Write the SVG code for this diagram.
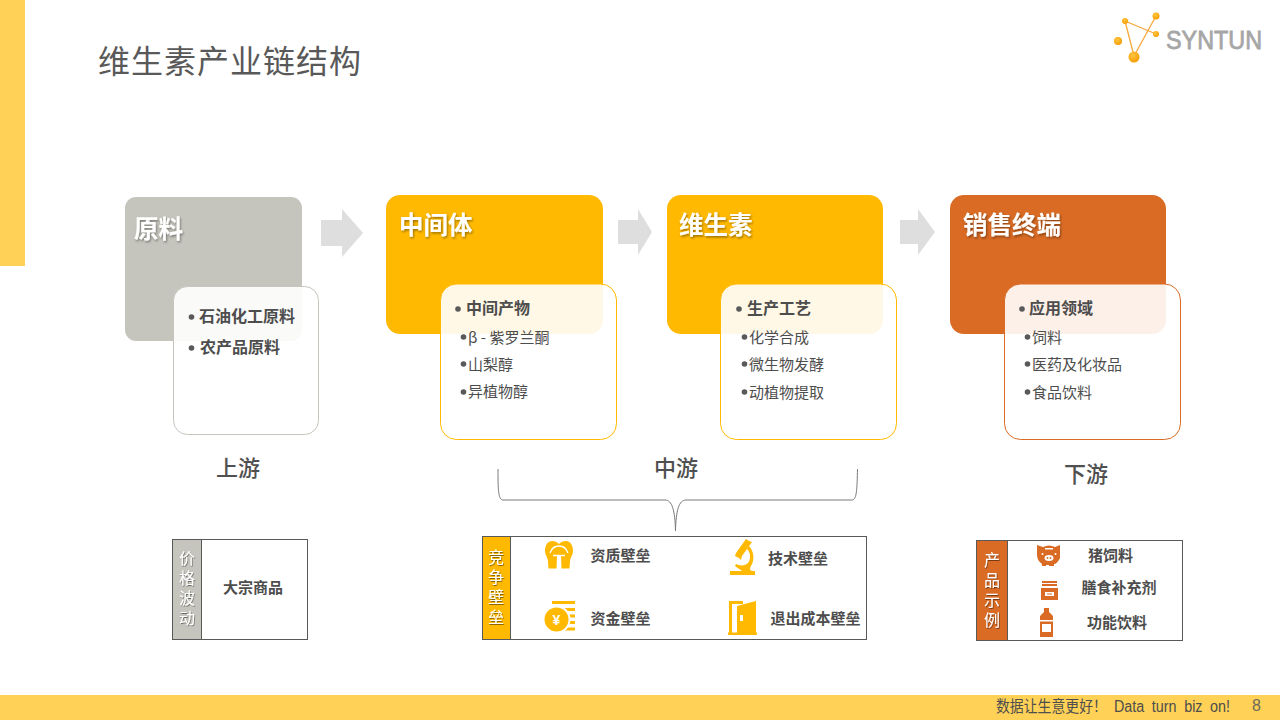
<svg xmlns="http://www.w3.org/2000/svg" width="1280" height="720" viewBox="0 0 1280 720">
<style>
text{font-family:"Noto Sans CJK SC","Liberation Sans",sans-serif;fill:#4d4d4d}
.head{font-size:24.500px;font-weight:700;fill:#fff;filter:url(#sh)}
.bold{font-size:16px;font-weight:700}
.item{font-size:15px}
.stage{font-size:22px;font-weight:500;fill:#505050}
.side{font-size:16px;fill:#fff;writing-mode:vertical-rl;text-orientation:upright;letter-spacing:4px;filter:url(#sh2)}
.lab{font-size:15px;font-weight:700;text-anchor:middle}
.panel{fill:#fff;fill-opacity:.9;stroke-width:1}
.frame{fill:#fff;stroke:#595959;stroke-width:1}
.arrow{fill:#dedede}
.dot{fill:#595959}
.gold{fill:#ffb900}
.rust{fill:#d96b24}
</style>
<defs>
<filter id="sh" x="-10%" y="-10%" width="125%" height="130%"><feDropShadow dx="1" dy="1.5" stdDeviation="1" flood-color="#000" flood-opacity=".4"/></filter>
<filter id="sh2" x="-30%" y="-10%" width="170%" height="120%"><feDropShadow dx=".7" dy="1" stdDeviation=".5" flood-color="#000" flood-opacity=".45"/></filter>
<radialGradient id="ball" cx=".4" cy=".35" r=".7"><stop offset="0" stop-color="#ffc640"/><stop offset="1" stop-color="#f59a00"/></radialGradient>
</defs>

<g id="background">
<rect x="0" y="0" width="25" height="266" fill="#ffd257"/>
<rect x="0" y="695" width="1280" height="25" fill="#ffd257"/>
<text x="98" y="73" font-size="32" letter-spacing="1" style="fill:#595959">维生素产业链结构</text>
<text x="996" y="712" style="font-size:16px" textLength="111" lengthAdjust="spacingAndGlyphs">数据让生意更好！</text>
<text x="1114" y="712" style="font-size:16px;font-family:'Liberation Sans',sans-serif" word-spacing="4" textLength="116" lengthAdjust="spacingAndGlyphs">Data turn biz on!</text>
<text x="1252" y="711" style="font-size:16px;font-family:'Liberation Sans',sans-serif;fill:#6b6b5a">8</text>
</g>

<g id="logo">
<path d="M1125 21L1156 34M1125 21L1134 56L1156 16" fill="none" stroke="#f7a83c" stroke-width="1.300"/>
<circle cx="1156" cy="16" r="3.500" fill="url(#ball)"/>
<circle cx="1125" cy="21" r="3" fill="url(#ball)"/>
<circle cx="1156" cy="34" r="3" fill="url(#ball)"/>
<circle cx="1118" cy="41" r="4" fill="url(#ball)"/>
<circle cx="1134" cy="57" r="5.500" fill="url(#ball)"/>
<text x="1166" y="49" style="font-family:'Liberation Sans',sans-serif;font-size:26px;fill:#a6a6a6;stroke:#a6a6a6;stroke-width:.8" textLength="96" lengthAdjust="spacingAndGlyphs">SYNTUN</text>
</g>

<g id="connectors">
<path class="arrow" d="M321 220H342V209L363 233L342 257V246H321Z"/>
<path class="arrow" d="M618 220H638V209L652 232L638 255V244H618Z"/>
<path class="arrow" d="M900 220H918V209L935 232L918 255V244H900Z"/>
<path d="M498 469C498 488 498 500 503 500H665C672 500 675 510 675.500 531C676 510 679 500 686 500H852C857 500 857 488 857.500 469" fill="none" stroke="#7a7a7a" stroke-width="1"/>
</g>

<g id="node-raw">
<rect x="125" y="197" width="177" height="144" rx="11" fill="#c6c5bd"/>
<text x="134" y="238" class="head">原料</text>
<rect class="panel" x="173.500" y="286.500" width="145" height="148" rx="14" stroke="#c6c5bd"/>
<circle class="dot" cx="191.500" cy="317" r="2.800"/>
<text x="199" y="322" class="bold">石油化工原料</text>
<circle class="dot" cx="191.500" cy="348" r="2.800"/>
<text x="200" y="353" class="bold">农产品原料</text>
</g>

<g id="node-intermediate">
<rect x="386" y="195" width="217" height="139" rx="14" class="gold"/>
<text x="399" y="234" class="head">中间体</text>
<rect class="panel" x="440.500" y="284" width="176" height="155.500" rx="16" stroke="#ffb900"/>
<circle class="dot" cx="458" cy="309" r="2.800"/>
<text x="466" y="314" class="bold">中间产物</text>
<circle class="dot" cx="463.500" cy="337" r="2.800"/>
<text x="468" y="343" class="item">β - 紫罗兰酮</text>
<circle class="dot" cx="463.500" cy="364" r="2.800"/>
<text x="468" y="370" class="item">山梨醇</text>
<circle class="dot" cx="463.500" cy="392" r="2.800"/>
<text x="468" y="397" class="item">异植物醇</text>
</g>

<g id="node-vitamin">
<rect x="667" y="195" width="216" height="139" rx="14" class="gold"/>
<text x="679" y="234" class="head">维生素</text>
<rect class="panel" x="720.500" y="284" width="176" height="155.500" rx="16" stroke="#ffb900"/>
<circle class="dot" cx="739" cy="309" r="2.800"/>
<text x="747" y="314" class="bold">生产工艺</text>
<circle class="dot" cx="744.500" cy="337" r="2.800"/>
<text x="749" y="343" class="item">化学合成</text>
<circle class="dot" cx="744.500" cy="364" r="2.800"/>
<text x="749" y="370" class="item">微生物发酵</text>
<circle class="dot" cx="744.500" cy="392" r="2.800"/>
<text x="749" y="398" class="item">动植物提取</text>
</g>

<g id="node-sales">
<rect x="950" y="195" width="216" height="139" rx="14" class="rust"/>
<text x="963" y="234" class="head">销售终端</text>
<rect class="panel" x="1004.500" y="284" width="176" height="155.500" rx="16" stroke="#d96b24"/>
<circle class="dot" cx="1022" cy="309" r="2.800"/>
<text x="1029" y="314" class="bold">应用领域</text>
<circle class="dot" cx="1027.500" cy="337" r="2.800"/>
<text x="1032" y="343" class="item">饲料</text>
<circle class="dot" cx="1027.500" cy="364" r="2.800"/>
<text x="1032" y="370" class="item">医药及化妆品</text>
<circle class="dot" cx="1027.500" cy="392" r="2.800"/>
<text x="1032" y="398" class="item">食品饮料</text>
</g>

<g id="stage-labels">
<text x="216" y="476" class="stage">上游</text>
<text x="654" y="476" class="stage">中游</text>
<text x="1064" y="482" class="stage">下游</text>
</g>

<g id="node-price">
<rect class="frame" x="172.500" y="539.500" width="135" height="100"/>
<rect x="172.500" y="539.500" width="29" height="100" fill="#c6c5bd" stroke="#595959"/>
<text x="187" y="550" class="side">价格波动</text>
<text x="253" y="593" class="lab">大宗商品</text>
</g>

<g id="node-barrier">
<rect class="frame" x="482.500" y="536.500" width="384" height="103"/>
<rect x="482.500" y="536.500" width="28" height="103" class="gold" stroke="#595959"/>
<text x="496" y="549" class="side">竞争壁垒</text>
<g class="gold">
<path d="M552 541C548 541 545 545 545 551C545 555 547.500 557 548 561L548.500 568.500H556.500L557 556H561L561.500 568.500H569.500L570 561C570.500 557 573 555 573 551C573 545 570 541 566 541C563 541 561 542 559 544C557 542 555 541 552 541Z"/>
<rect x="552" y="601" width="23" height="3"/>
<rect x="563" y="608" width="12" height="3"/><rect x="563" y="614.500" width="12" height="3"/><rect x="563" y="621" width="12" height="3"/><rect x="563" y="627.500" width="12" height="3"/>
</g>
<path d="M550 553C552 547 556 546 559 546C562 546 566 547 568 553M553 555.500H565" fill="none" stroke="#fff" stroke-width="1.300"/>
<circle cx="556.500" cy="619.500" r="14" fill="#fff"/>
<circle cx="556.500" cy="619.500" r="12" class="gold"/>
<g class="gold">
<path d="M730 575V571H742C740 569 737 568 735 566L736 564C740 566 745 566 748 563C751 559 751 553 747 549L749 546C754 551 755 560 751 566C750 568 749 570 752 571H755V575Z"/>
<path d="M736 553L746 539L749 541L752 542L742 556L741 560L739 558L735 556Z"/>
<rect x="729" y="601" width="3" height="32"/><rect x="729" y="601" width="14" height="3"/><rect x="728" y="632.500" width="29" height="2.500"/>
<path d="M737 606L756 601V633H737Z"/>
</g>
<rect x="740" y="615" width="3" height="6" fill="#fff"/>
<text x="556.500" y="624.500" style="font-size:14px;font-weight:700;fill:#fff;font-family:'Liberation Sans',sans-serif" text-anchor="middle">¥</text>
<text x="620.500" y="561" class="lab">资质壁垒</text>
<text x="620.500" y="624" class="lab">资金壁垒</text>
<text x="798" y="564" class="lab">技术壁垒</text>
<text x="815.500" y="624" class="lab">退出成本壁垒</text>
</g>

<g id="node-products">
<rect class="frame" x="976.500" y="540.500" width="206" height="100"/>
<rect x="976.500" y="540.500" width="31" height="100" class="rust" stroke="#595959"/>
<text x="992" y="552" class="side">产品示例</text>
<g class="rust">
<path d="M1037 545L1043 547C1047 545 1051 545 1055 547L1060 545V553L1060 558C1058 562 1056 564 1054 564V566H1049V565H1046V566H1042V564C1039 562 1037 559 1037 555Z"/>
<rect x="1042" y="581" width="15" height="5"/>
<path d="M1041 588H1058V600H1041Z"/>
<path d="M1044 608H1049V612L1053 616V637H1040V616L1044 612Z"/>
</g>
<g fill="#fff">
<rect x="1045" y="548" width="8" height="1.500"/>
<ellipse cx="1049" cy="558" rx="4.500" ry="3"/>
<circle cx="1042.500" cy="554" r="1"/><circle cx="1055.500" cy="554" r="1"/>
<rect x="1042" y="583" width="15" height="1"/>
<rect x="1045" y="592" width="9" height="4"/>
<rect x="1040" y="620" width="13" height="1.500"/>
<rect x="1042" y="624" width="9" height="8"/>
</g>
<circle cx="1047.500" cy="558" r=".9" class="rust"/><circle cx="1050.500" cy="558" r=".9" class="rust"/>
<rect x="1047" y="593.500" width="5" height="1" class="rust"/>
<text x="1110.500" y="561" class="lab">猪饲料</text>
<text x="1119" y="593" class="lab">膳食补充剂</text>
<text x="1117" y="628" class="lab">功能饮料</text>
</g>
</svg>
